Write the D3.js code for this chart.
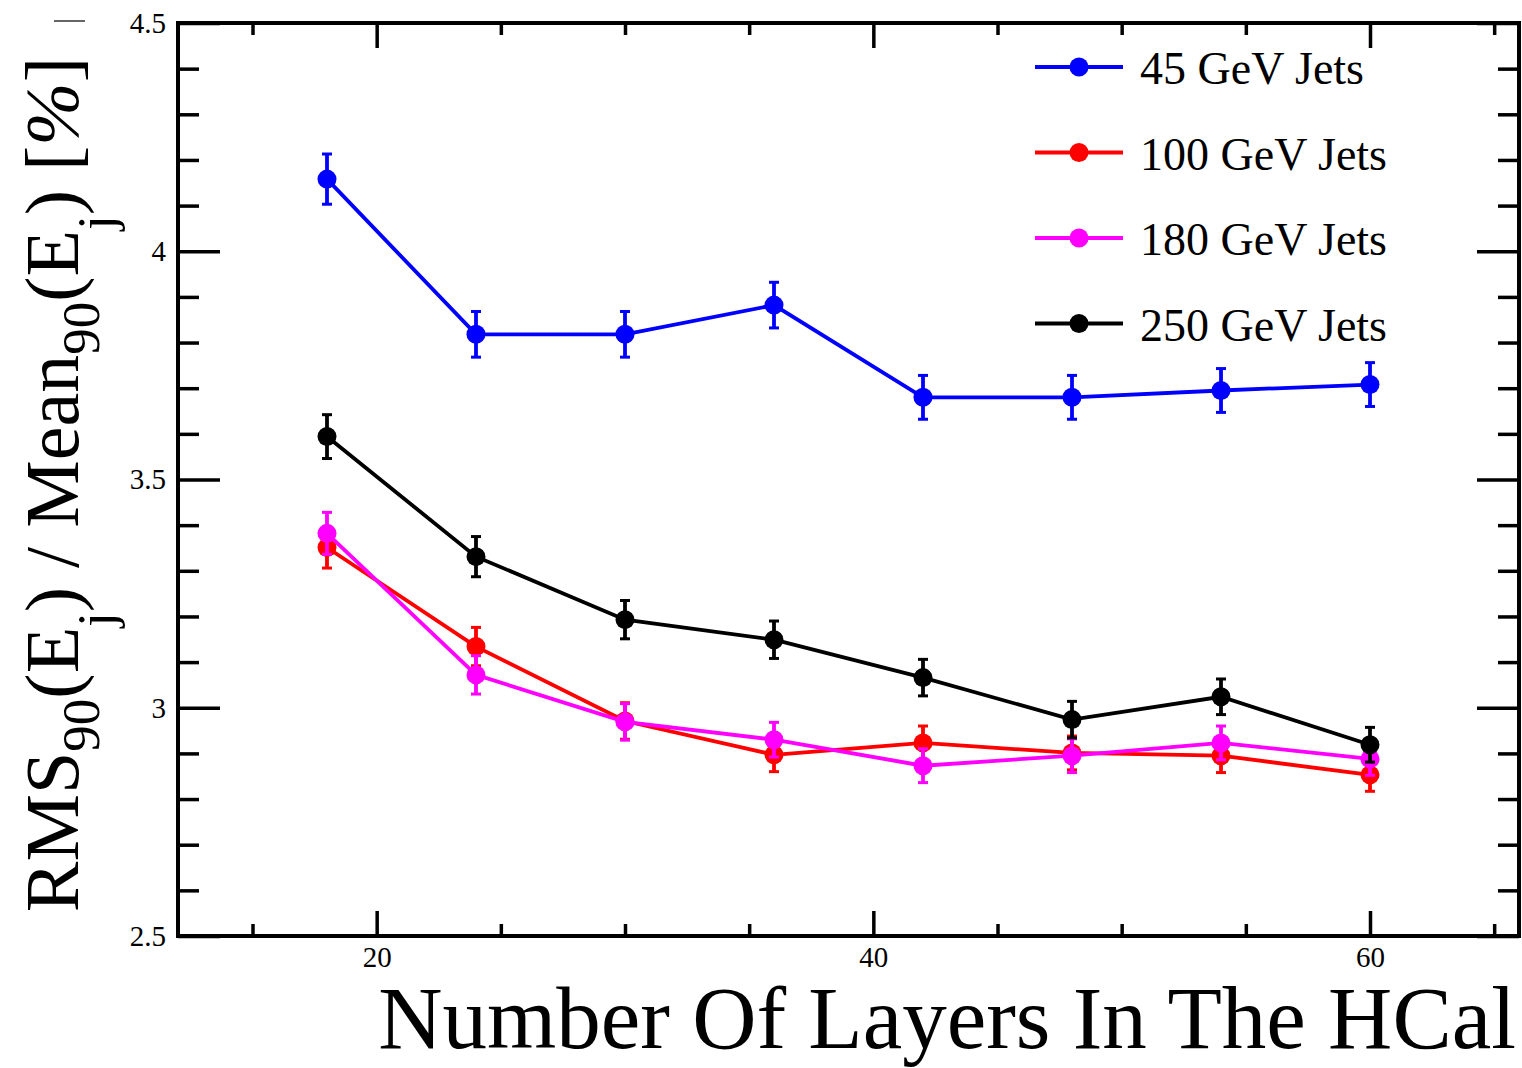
<!DOCTYPE html>
<html>
<head>
<meta charset="utf-8">
<script src="https://cdn.jsdelivr.net/npm/d3@7"></script>
<style>
  body { margin: 0; background: #fff; }
  svg text { font-family: "Liberation Serif", "Times New Roman", serif; fill: #000; }
</style>
</head>
<body>
<div id="chart"></div>
<script>
// number of layers in the HCal
var layers = [18, 24, 30, 36, 42, 48, 54, 60];

// RMS90/Mean90 [%] for each jet energy
var jets45  = [4.158, 3.818, 3.818, 3.882, 3.680, 3.680, 3.695, 3.708];
var jets100 = [3.351, 3.134, 2.971, 2.897, 2.923, 2.901, 2.895, 2.853];
var jets180 = [3.382, 3.072, 2.969, 2.930, 2.873, 2.895, 2.923, 2.888];
var jets250 = [3.594, 3.331, 3.193, 3.149, 3.066, 2.974, 3.024, 2.919];

var err45  = [0.055, 0.050, 0.050, 0.050, 0.048, 0.048, 0.048, 0.048];
var err100 = [0.045, 0.042, 0.040, 0.037, 0.037, 0.037, 0.037, 0.036];
var err180 = [0.046, 0.042, 0.040, 0.038, 0.037, 0.037, 0.037, 0.036];
var err250 = [0.048, 0.044, 0.042, 0.041, 0.040, 0.040, 0.039, 0.038];

var seriesNames  = ["45 GeV Jets", "100 GeV Jets", "180 GeV Jets", "250 GeV Jets"];
var seriesColors = ["#0000ff", "#ff0000", "#ff00ff", "#000000"];
var seriesVals   = [jets45, jets100, jets180, jets250];
var seriesErrs   = [err45, err100, err180, err250];

var xMajor = [20, 40, 60];
var xMinor = [15, 25, 30, 35, 45, 50, 55, 65];
var yMajor = [2.5, 3, 3.5, 4, 4.5];
var yMinor = [2.6, 2.7, 2.8, 2.9, 3.1, 3.2, 3.3, 3.4, 3.6, 3.7, 3.8, 3.9, 4.1, 4.2, 4.3, 4.4];

var wd = 1522, ht = 1068;
var padL = 178, padR = 1519, padT = 23, padB = 936;

var x = d3.scaleLinear().domain([12, 66]).range([padL, padR]);
var y = d3.scaleLinear().domain([2.5, 4.5]).range([padB, padT]);

var svg = d3.select('#chart')
	.append("svg")
	.attr("width", wd)
	.attr("height", ht);

// ticks, all pointing inward
function tickAxis(axis, tr, vals, size, fmt) {
	var g = svg.append("g")
		.attr("transform", tr)
		.call(axis.tickValues(vals).tickSizeInner(size).tickSizeOuter(0).tickPadding(10).tickFormat(fmt));
	g.select(".domain").remove();
	g.selectAll(".tick line").attr("stroke", "#000").attr("stroke-width", 3.5);
	return g;
}
var none = function(){ return ""; };

var yl = tickAxis(d3.axisLeft(y), "translate(" + padL + ",0)", yMajor, -42, d3.format("~g"));
yl.selectAll("text").attr("font-size", 29).attr("font-family", "Liberation Serif").attr("x", -12);
tickAxis(d3.axisLeft(y), "translate(" + padL + ",0)", yMinor, -21, none);
tickAxis(d3.axisRight(y), "translate(" + padR + ",0)", yMajor, -42, none);
tickAxis(d3.axisRight(y), "translate(" + padR + ",0)", yMinor, -21, none);

var xb = tickAxis(d3.axisBottom(x), "translate(0," + padB + ")", xMajor, -25, d3.format("d"));
xb.selectAll("text").attr("font-size", 29).attr("font-family", "Liberation Serif").attr("y", 10);
tickAxis(d3.axisBottom(x), "translate(0," + padB + ")", xMinor, -12, none);
tickAxis(d3.axisTop(x), "translate(0," + padT + ")", xMajor, -25, none);
tickAxis(d3.axisTop(x), "translate(0," + padT + ")", xMinor, -12, none);

// frame
svg.append("rect")
	.attr("x", padL).attr("y", padT)
	.attr("width", padR - padL).attr("height", padB - padT)
	.attr("fill", "none").attr("stroke", "#000").attr("stroke-width", 4);

// series: line, error bars, markers
var line = d3.line()
	.x(function(d){ return x(d.x); })
	.y(function(d){ return y(d.v); });

seriesVals.forEach(function(vals, s) {
	var col = seriesColors[s];
	var pts = vals.map(function(v, i){ return {x: layers[i], v: v, e: seriesErrs[s][i]}; });
	var g = svg.append("g").attr("class", "series");

	g.append("path")
		.datum(pts)
		.attr("d", line)
		.attr("fill", "none")
		.attr("stroke", col)
		.attr("stroke-width", 3.8);

	g.selectAll(".ebar").data(pts).enter().append("line")
		.attr("x1", function(d){ return x(d.x); })
		.attr("x2", function(d){ return x(d.x); })
		.attr("y1", function(d){ return y(d.v + d.e); })
		.attr("y2", function(d){ return y(d.v - d.e); })
		.attr("stroke", col).attr("stroke-width", 3.8);

	[1, -1].forEach(function(sgn) {
		g.selectAll(".cap" + sgn).data(pts).enter().append("line")
			.attr("x1", function(d){ return x(d.x) - 5; })
			.attr("x2", function(d){ return x(d.x) + 5; })
			.attr("y1", function(d){ return y(d.v + sgn * d.e); })
			.attr("y2", function(d){ return y(d.v + sgn * d.e); })
			.attr("stroke", col).attr("stroke-width", 3);
	});

	g.selectAll("circle").data(pts).enter().append("circle")
		.attr("cx", function(d){ return x(d.x); })
		.attr("cy", function(d){ return y(d.v); })
		.attr("r", 9.5)
		.attr("fill", col);
});

// legend
var leg = svg.append("g").selectAll("g")
	.data(seriesNames)
	.enter().append("g")
	.attr("transform", function(d, i){ return "translate(0," + (67 + i * 85.5) + ")"; });
leg.append("line")
	.attr("x1", 1035).attr("x2", 1123)
	.attr("stroke", function(d, i){ return seriesColors[i]; })
	.attr("stroke-width", 4);
leg.append("circle")
	.attr("cx", 1079).attr("r", 9.5)
	.attr("fill", function(d, i){ return seriesColors[i]; });
leg.append("text")
	.attr("x", 1140).attr("y", 17)
	.attr("font-size", 46)
	.text(function(d){ return d; });

// axis titles
svg.append("text")
	.attr("x", 1516).attr("y", 1048)
	.attr("text-anchor", "end")
	.attr("font-size", 89)
	.text("Number Of Layers In The HCal");

var yt = svg.append("text")
	.attr("transform", "translate(78,57) rotate(-90)")
	.attr("text-anchor", "end")
	.attr("font-size", 76);
var parts = [
	["RMS", 0], ["90", 1], ["(E", 0], ["j", 2], [") / Mean", 0],
	["90", 1], ["(E", 0], ["j", 2], [") [", 0], ["%", 3], ["]", 0]
];
var shift = 0;
parts.forEach(function(p) {
	var target = p[1] === 1 ? 21 : (p[1] === 2 ? 36 : 0);
	var ts = yt.append("tspan")
		.attr("dy", target - shift)
		.attr("font-size", (p[1] === 1 || p[1] === 2) ? 53 : 76)
		.text(p[0]);
	if (p[1] === 3) ts.attr("font-style", "italic");
	shift = target;
});

svg.append("line")
	.attr("x1", 54).attr("x2", 85).attr("y1", 21).attr("y2", 21)
	.attr("stroke", "#000").attr("stroke-width", 1.2);
</script>
</body>
</html>
